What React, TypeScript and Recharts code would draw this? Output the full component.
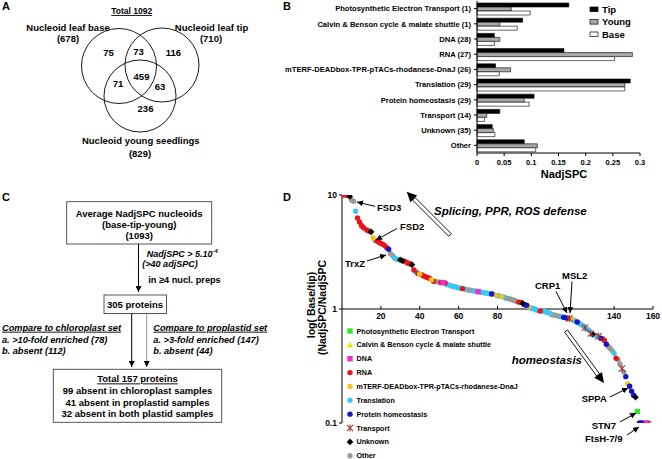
import React from 'react';
import {
  Bar,
  BarChart,
  Legend,
  ReferenceLine,
  Scatter,
  ScatterChart,
  XAxis,
  YAxis,
} from 'recharts';

const FONT = 'Arial, "Liberation Sans", Helvetica, sans-serif';

// ---- panel B: average NadjSPC per functional group
const groupNames = [
  'Photosynthetic Electron Transport (1)',
  'Calvin & Benson cycle & malate shuttle (1)',
  'DNA (28)',
  'RNA (27)',
  'mTERF-DEADbox-TPR-pTACs-rhodanese-DnaJ (26)',
  'Translation (29)',
  'Protein homeostasis (29)',
  'Transport (14)',
  'Unknown (35)',
  'Other',
];
const tipValues = [0.169, 0.084, 0.032, 0.16, 0.034, 0.282, 0.105, 0.042, 0.028, 0.087];
const youngValues = [0.063, 0.042, 0.042, 0.286, 0.062, 0.272, 0.087, 0.018, 0.03, 0.111];
const baseValues = [0.098, 0.074, 0.032, 0.253, 0.041, 0.272, 0.096, 0.014, 0.033, 0.108];
const nadjTicks = [0, 0.05, 0.1, 0.15, 0.2, 0.25, 0.3];

// ---- panel D: base/tip ratio of the 157 proteins, by rank
const rankRatios = [
  10.0, 10.0, 9.9, 9.7, 9.0, 8.8, 7.2, 6.3, 5.8, 5.4,
  5.2, 5.0, 4.9, 4.8, 4.75, 4.2, 4.0, 3.95, 3.85, 3.75,
  3.7, 3.6, 3.45, 3.35, 3.05, 2.95, 2.8, 2.75, 2.7, 2.7,
  2.65, 2.62, 2.58, 2.52, 2.48, 2.45, 2.2, 2.12, 2.05, 2.03,
  2.0, 1.95, 1.92, 1.88, 1.86, 1.8, 1.75, 1.74, 1.73, 1.72,
  1.71, 1.7, 1.69, 1.64, 1.62, 1.6, 1.58, 1.57, 1.55, 1.53,
  1.52, 1.51, 1.5, 1.48, 1.47, 1.46, 1.45, 1.44, 1.43, 1.42,
  1.41, 1.4, 1.39, 1.38, 1.37, 1.36, 1.355, 1.35, 1.33, 1.31,
  1.3, 1.29, 1.28, 1.25, 1.24, 1.23, 1.21, 1.2, 1.18, 1.16,
  1.15, 1.14, 1.12, 1.09, 1.08, 1.05, 1.02, 1.01, 1.0, 0.98,
  0.97, 0.96, 0.96, 0.95, 0.94, 0.93, 0.92, 0.89, 0.885, 0.88,
  0.87, 0.86, 0.855, 0.845, 0.84, 0.83, 0.825, 0.82, 0.8, 0.78,
  0.77, 0.75, 0.73, 0.71, 0.685, 0.67, 0.65, 0.61, 0.6, 0.59,
  0.58, 0.575, 0.555, 0.55, 0.53, 0.49, 0.47, 0.45, 0.43, 0.41,
  0.37, 0.36, 0.33, 0.3, 0.28, 0.255, 0.22, 0.21, 0.19, 0.175,
  0.168, 0.126, 0.1, 0.1, 0.1, 0.1, 0.1, 0.1,
];
const rankCategories = [
  'r', 'r', 'r', 'u', 'o', 'o', 't', 'r', 'r', 'r',
  'r', 'o', 'r', 'r', 'u', 'm', 'o', 'r', 'r', 'r',
  'r', 'r', 'r', 'p', 'o', 'o', 't', 'o', 't', 'u',
  'u', 'r', 'r', 'r', 'r', 'u', 'r', 't', 'r', 'm',
  'r', 'r', 'r', 'r', 'r', 'm', 'r', 'o', 'o', 'o',
  'r', 'd', 'r', 't', 't', 't', 't', 't', 't', 't',
  't', 'r', 't', 'o', 'o', 'o', 'o', 't', 't', 'd',
  't', 't', 't', 't', 't', 't', 'p', 't', 'm', 't',
  't', 'm', 't', 'o', 'o', 'o', 'o', 'o', 'o', 'o',
  'r', 'r', 'u', 'p', 'p', 'm', 't', 't', 't', 't',
  't', 'r', 't', 't', 't', 't', 't', 'o', 'o', 'o',
  'o', 'o', 't', 'p', 'p', 'r', 'x', 'm', 't', 't',
  'p', 't', 't', 't', 'x', 't', 't', 'x', 'u', 't',
  't', 'x', 'p', 'r', 'r', 'p', 'o', 'o', 'o', 't',
  'r', 'o', 'o', 'x', 'o', 'p', 'm', 'p', 'p', 'p',
  'u', 'g', 'p', 'p', 'r', 'd', 'r', 'o',
];
const categoryKeys = ['g', 'c', 'd', 'r', 'm', 't', 'p', 'x', 'u', 'o'];
const categoryNames = [
  'Photosynthetic Electron Transport',
  'Calvin & Benson cycle & malate shuttle',
  'DNA',
  'RNA',
  'mTERF-DEADbox-TPR-pTACs-rhodanese-DnaJ',
  'Translation',
  'Protein homeostasis',
  'Transport',
  'Unknown',
  'Other',
];
const categoryColors = ['#2ee82e', '#f2e600', '#ee2fd0', '#e8141c', '#f6c21c', '#38c8f0', '#1414c8', '#a83232', '#000000', '#9a9a9a'];
const drawOrder = ['o', 't', 'r', 'm', 'd', 'p', 'u', 'x', 'g', 'c'];
const rankTicks = [20, 40, 60, 80, 140, 160];
const ratioTicks = [0.1, 1, 10];

const barData = groupNames.map((name, i) => ({
  name,
  tip: tipValues[i],
  young: youngValues[i],
  base: baseValues[i],
}));

const pointData = rankRatios.map((ratio, i) => ({ rank: i + 1, ratio, cat: rankCategories[i] }));

const D_PLOT_H = 228;

function symbol(key: string, cx: number, cy: number) {
  const color = categoryColors[categoryKeys.indexOf(key)];
  if (key === 'g' || key === 'd') {
    return <rect x={cx - 2.7} y={cy - 2.7} width={5.4} height={5.4} fill={color} />;
  }
  if (key === 'c') {
    return <path d={`M${cx},${cy - 3.2}L${cx + 3.2},${cy + 2.6}L${cx - 3.2},${cy + 2.6}Z`} fill={color} />;
  }
  if (key === 'u') {
    return <path d={`M${cx},${cy - 3.3}L${cx + 3.3},${cy}L${cx},${cy + 3.3}L${cx - 3.3},${cy}Z`} fill={color} />;
  }
  if (key === 'x') {
    return (
      <g stroke={color} strokeWidth={1.1}>
        <line x1={cx - 3.2} y1={cy - 3.2} x2={cx + 3.2} y2={cy + 3.2} />
        <line x1={cx - 3.2} y1={cy + 3.2} x2={cx + 3.2} y2={cy - 3.2} />
        <line x1={cx} y1={cy - 3.6} x2={cx} y2={cy + 3.6} />
      </g>
    );
  }
  return <circle cx={cx} cy={cy} r={2.7} fill={color} />;
}

const GroupTick = (props: any) => {
  const { x, y, payload } = props;
  return (
    <text x={x} y={y} dy={2.7} textAnchor="end" fontSize={7.6} fontWeight="bold" fill="#000" fontFamily={FONT}>
      {payload.value}
    </text>
  );
};

// x ticks of panel D sit on the y=1 line, half way up the plot
const MidTick = (props: any) => {
  const { x, y, payload } = props;
  const yy = y - D_PLOT_H / 2;
  return (
    <g>
      <line x1={x} x2={x} y1={yy} y2={yy - 3} stroke="#000" />
      <text x={x} y={yy + 10} textAnchor="middle" fontSize={8.5} fontWeight="bold" fill="#000" fontFamily={FONT}>
        {payload.value}
      </text>
    </g>
  );
};

const BarLegend = () => {
  const rows = [
    { label: 'Tip', fill: '#000' },
    { label: 'Young', fill: '#a8a8a8' },
    { label: 'Base', fill: '#fff' },
  ];
  return (
    <svg width={70} height={42} style={{ display: 'block' }}>
      {rows.map((r, i) => (
        <g key={r.label}>
          <rect x={5} y={5 + i * 12.5} width={8} height={4.6} fill={r.fill} stroke="#000" strokeWidth={0.7} />
          <text x={17} y={10.8 + i * 12.5} fontSize={9.5} fontWeight="bold" fontFamily={FONT} fill="#000">
            {r.label}
          </text>
        </g>
      ))}
    </svg>
  );
};

const ScatterLegend = () => (
  <svg width={260} height={140} style={{ display: 'block' }}>
    {categoryKeys.map((k, i) => (
      <g key={k}>
        {symbol(k, 5, 6 + i * 13.86)}
        <text x={11.5} y={8.6 + i * 13.86} fontSize={7.2} fontWeight="bold" fontFamily={FONT} fill="#000">
          {categoryNames[i]}
        </text>
      </g>
    ))}
  </svg>
);

type TProps = {
  x: number;
  y: number;
  children: React.ReactNode;
  size?: number;
  anchor?: 'start' | 'middle' | 'end';
  italic?: boolean;
  underline?: boolean;
};
const T = ({ x, y, children, size = 9.5, anchor = 'start', italic, underline }: TProps) => (
  <text
    x={x}
    y={y}
    fontSize={size}
    fontWeight="bold"
    fontStyle={italic ? 'italic' : 'normal'}
    textAnchor={anchor}
    textDecoration={underline ? 'underline' : undefined}
    fill="#000"
  >
    {children}
  </text>
);

function DoubleArrow({ x1, y1, x2, y2 }: { x1: number; y1: number; x2: number; y2: number }) {
  const len = Math.hypot(x2 - x1, y2 - y1);
  const ux = (x2 - x1) / len;
  const uy = (y2 - y1) / len;
  const nx = -uy;
  const ny = ux;
  const bx = x2 - ux * 10;
  const by = y2 - uy * 10;
  const sw = 1.8;
  const hw = 4.8;
  const shaft = `M${x1 + nx * sw},${y1 + ny * sw}L${bx + nx * sw},${by + ny * sw}L${bx - nx * sw},${by - ny * sw}L${x1 - nx * sw},${y1 - ny * sw}Z`;
  const head = `M${x2},${y2}L${bx + nx * hw},${by + ny * hw}L${bx - nx * hw},${by - ny * hw}Z`;
  return (
    <g>
      <path d={shaft} fill="#fff" stroke="#000" strokeWidth={0.9} />
      <path d={head} fill="#000" />
    </g>
  );
}

const Arrow = ({ x1, y1, x2, y2, color = '#000' }: { x1: number; y1: number; x2: number; y2: number; color?: string }) => (
  <line x1={x1} y1={y1} x2={x2} y2={y2} stroke={color} strokeWidth={1} markerEnd="url(#ah)" />
);

const Overlay = () => (
  <svg
    width={662}
    height={459}
    style={{ position: 'absolute', left: 0, top: 0, pointerEvents: 'none', fontFamily: FONT }}
  >
    <defs>
      <marker id="ah" viewBox="0 0 10 10" refX={10} refY={5} markerWidth={6} markerHeight={6} markerUnits="userSpaceOnUse" orient="auto">
        <path d="M0,0L10,5L0,10Z" fill="#000" />
      </marker>
    </defs>

    {/* panel letters */}
    <T x={2} y={10} size={11}>A</T>
    <T x={283} y={10} size={11}>B</T>
    <T x={2} y={201} size={11}>C</T>
    <T x={283} y={201} size={11}>D</T>

    {/* A: venn */}
    <T x={131.7} y={14} size={8.5} anchor="middle" underline>Total 1092</T>
    <T x={68} y={30.5} anchor="middle">Nucleoid leaf base</T>
    <T x={68} y={42} anchor="middle">(678)</T>
    <T x={211.5} y={30.5} anchor="middle">Nucleoid leaf tip</T>
    <T x={211} y={42} anchor="middle">(710)</T>
    <g fill="none" stroke="#000" strokeWidth={0.9}>
      <circle cx={119} cy={66} r={37.5} />
      <circle cx={162} cy={65} r={37} />
      <circle cx={140} cy={96} r={36} />
    </g>
    <T x={108.5} y={56} anchor="middle">75</T>
    <T x={138.5} y={55} anchor="middle">73</T>
    <T x={173.5} y={56} anchor="middle">116</T>
    <T x={118} y={86.7} anchor="middle">71</T>
    <T x={141.5} y={80} anchor="middle">459</T>
    <T x={160} y={89.5} anchor="middle">63</T>
    <T x={145.5} y={111.7} anchor="middle">236</T>
    <T x={140.8} y={144} anchor="middle">Nucleoid young seedlings</T>
    <T x={140} y={157.4} anchor="middle">(829)</T>

    {/* C: flow */}
    <rect x={66.7} y={201.7} width={145} height={42.3} fill="none" stroke="#444" strokeWidth={0.9} />
    <T x={139.2} y={216.6} anchor="middle">Average NadjSPC nucleoids</T>
    <T x={139.2} y={228.4} anchor="middle">(base-tip-young)</T>
    <T x={139.2} y={238.5} anchor="middle">(1093)</T>
    <Arrow x1={138.5} y1={244} x2={138.5} y2={292} />
    <text x={146.7} y={256.5} fontSize={9} fontWeight="bold" fontStyle="italic" fill="#000">
      NadjSPC &gt; 5.10<tspan dy={-4} fontSize={6}>-4</tspan>
    </text>
    <T x={170} y={266.7} size={9} anchor="middle" italic>(&gt;40 adjSPC)</T>
    <T x={148.3} y={282.7} size={9.2}>in ≥4 nucl. preps</T>
    <rect x={104} y={295} width={62.5} height={18.5} fill="none" stroke="#444" strokeWidth={0.9} />
    <T x={135} y={308} anchor="middle">305 proteins</T>
    <Arrow x1={131.7} y1={313.5} x2={131.7} y2={367} />
    <Arrow x1={146.7} y1={313.5} x2={146.7} y2={367} color="#999" />
    <T x={2} y={330.7} size={9.2} italic underline>Compare to chloroplast set</T>
    <T x={2} y={343.3} size={9.2} italic>a. &gt;10-fold enriched (78)</T>
    <T x={2} y={354} size={9.2} italic>b. absent (112)</T>
    <T x={153.3} y={330.7} size={9.2} italic underline>Compare to proplastid set</T>
    <T x={153.3} y={343.3} size={9.2} italic>a. &gt;3-fold enriched (147)</T>
    <T x={153.3} y={354} size={9.2} italic>b. absent (44)</T>
    <rect x={53.3} y={369.3} width={168.4} height={53} fill="none" stroke="#444" strokeWidth={0.9} />
    <T x={137.5} y={382.4} anchor="middle" underline>Total 157 proteins</T>
    <T x={137.5} y={394} anchor="middle">99 absent in chloroplast samples</T>
    <T x={137.5} y={405.8} anchor="middle">41 absent in proplastid samples</T>
    <T x={137.5} y={417.3} anchor="middle">32 absent in both plastid samples</T>

    {/* D: axis title and annotations */}
    <text transform="translate(315,305) rotate(-90)" textAnchor="middle" fontSize={10.5} fontWeight="bold" fill="#000">
      log( Base/tip)
    </text>
    <text transform="translate(326,307.5) rotate(-90)" textAnchor="middle" fontSize={10.5} fontWeight="bold" fill="#000">
      (NadjSPC/NadjSPC
    </text>
    <T x={377} y={210.7}>FSD3</T>
    <Arrow x1={375} y1={206.3} x2={357} y2={202} />
    <T x={400} y={230.3}>FSD2</T>
    <Arrow x1={397} y1={228.5} x2={376} y2={240} />
    <T x={345} y={266.7}>TrxZ</T>
    <Arrow x1={367} y1={261} x2={386} y2={255} />
    <T x={535} y={288.5}>CRP1</T>
    <Arrow x1={556} y1={291.5} x2={567} y2={313} />
    <T x={562} y={278.5}>MSL2</T>
    <Arrow x1={572} y1={281.5} x2={570} y2={313} />
    <T x={581.7} y={401.7}>SPPA</T>
    <Arrow x1={610} y1={397} x2={628} y2={388} />
    <T x={591.7} y={428.5}>STN7</T>
    <Arrow x1={620} y1={422} x2={636} y2={413} />
    <T x={585} y={441.8}>FtsH-7/9</T>
    <Arrow x1={627} y1={435} x2={639} y2={427} />
    <T x={434} y={215} size={11.5} italic>Splicing, PPR, ROS defense</T>
    <DoubleArrow x1={450} y1={235} x2={406.7} y2={191.7} />
    <T x={511.7} y={363.5} size={11.5} italic>homeostasis</T>
    <DoubleArrow x1={566} y1={331} x2={604} y2={383} />
  </svg>
);

export default function App() {
  return (
    <div
      style={{
        position: 'absolute',
        left: 0,
        top: 0,
        width: 662,
        height: 459,
        background: '#fff',
        fontFamily: FONT,
        overflow: 'hidden',
      }}
    >
      <div style={{ position: 'absolute', left: 280, top: 0 }}>
        <BarChart
          width={374}
          height={185}
          data={barData}
          layout="vertical"
          margin={{ top: 1, right: 14, bottom: 0, left: 0 }}
          barCategoryGap={2}
          barGap={0}
        >
          <XAxis
            type="number"
            domain={[0, 0.3]}
            ticks={nadjTicks}
            height={32}
            tickSize={3}
            tickMargin={4}
            interval={0}
            stroke="#000"
            tick={{ fontSize: 7.5, fontWeight: 'bold', fill: '#000', fontFamily: FONT }}
            tickFormatter={(v: number) => String(v)}
            label={{
              value: 'NadjSPC',
              position: 'insideBottom',
              offset: 7.5,
              dx: 5.5,
              fontSize: 11,
              fontWeight: 'bold',
              fill: '#000',
              fontFamily: FONT,
            }}
          />
          <YAxis
            type="category"
            dataKey="name"
            width={197}
            tickSize={3}
            tickMargin={3}
            interval={0}
            stroke="#000"
            tick={(p: any) => <GroupTick {...p} />}
          />
          <Legend
            content={() => <BarLegend />}
            layout="horizontal"
            verticalAlign="middle"
            align="center"
            wrapperStyle={{ left: 305, top: 2, width: 70, height: 42 }}
          />
          <Bar dataKey="tip" name="Tip" fill="#000" stroke="#000" strokeWidth={0.6} isAnimationActive={false} />
          <Bar dataKey="young" name="Young" fill="#a8a8a8" stroke="#000" strokeWidth={0.6} isAnimationActive={false} />
          <Bar dataKey="base" name="Base" fill="#fff" stroke="#000" strokeWidth={0.6} isAnimationActive={false} />
        </BarChart>
      </div>

      <div style={{ position: 'absolute', left: 300, top: 185 }}>
        <ScatterChart width={362} height={274} margin={{ top: 10, right: 9, bottom: 35, left: 0 }}>
          <XAxis
            type="number"
            dataKey="rank"
            domain={[0, 160]}
            ticks={rankTicks}
            interval={0}
            height={1}
            tickSize={0}
            tickMargin={0}
            axisLine={false}
            tickLine={false}
            tick={(p: any) => <MidTick {...p} />}
          />
          <YAxis
            type="number"
            dataKey="ratio"
            scale="log"
            domain={[0.1, 10]}
            ticks={ratioTicks}
            allowDataOverflow
            interval={0}
            width={42}
            tickSize={3}
            tickMargin={2}
            stroke="#000"
            tick={{ fontSize: 8.5, fontWeight: 'bold', fill: '#000', fontFamily: FONT }}
            tickFormatter={(v: number) => String(v)}
          />
          <ReferenceLine y={1} stroke="#000" strokeWidth={1} />
          {drawOrder.map((k) => (
            <Scatter
              key={k}
              name={categoryNames[categoryKeys.indexOf(k)]}
              data={pointData.filter((d) => d.cat === k)}
              isAnimationActive={false}
              shape={(p: any) => symbol(k, p.cx, p.cy)}
            />
          ))}
          <Legend
            content={() => <ScatterLegend />}
            layout="horizontal"
            verticalAlign="middle"
            align="center"
            wrapperStyle={{ left: 45, top: 140, width: 260, height: 140 }}
          />
        </ScatterChart>
      </div>

      <Overlay />
    </div>
  );
}
